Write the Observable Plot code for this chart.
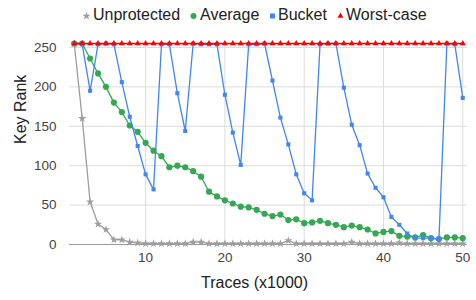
<!DOCTYPE html>
<html>
<head>
<meta charset="utf-8">
<script src="https://cdn.jsdelivr.net/npm/d3@7"></script>
<script src="https://cdn.jsdelivr.net/npm/@observablehq/plot@0.6"></script>
<style>
  html, body { margin: 0; padding: 0; background: #fff; }
  body { width: 476px; height: 300px; overflow: hidden; font-family: "Liberation Sans", Arial, sans-serif; }
  #legend { position: relative; height: 30px; width: 476px; }
  .item { position: absolute; top: 0; height: 30px; line-height: 30px; font-size: 16px; color: #222; white-space: nowrap; }
  .sym { position: absolute; top: 10px; }
</style>
</head>
<body>
<div id="legend"></div>
<div id="chart"></div>
<script>
const traces = [1,2,3,4,5,6,7,8,9,10,11,12,13,14,15,16,17,18,19,20,21,22,23,24,25,26,27,28,29,30,31,32,33,34,35,36,37,38,39,40,41,42,43,44,45,46,47,48,49,50];
const unprotected = [255,160,54,26,19,6,6,3,2,1,1,1,1,1,1,3,3,1,1,1,1,1,1,1,1,1,1,5,1,1,1,1,1,1,1,3,1,1,1,1,1,2,1,1,1,1,1,1,1,1];
const average = [255,255,236,217,200,180,168,151,143,129,119,112,98,100,98,93,86,67,61,56,52,48,47,44,39,36,38,31,32,27,28,30,27,25,22,24,22,19,14,16,17,11,10,9,12,8,7,9,9,8];
const bucket = [255,254,195,254,255,254,206,162,125,89,70,254,254,192,144,255,254,254,254,190,142,101,254,254,255,208,161,127,89,65,56,254,255,255,199,152,126,90,72,60,35,25,14,8,8,8,7,255,254,186];
const worstCase = [255,255,255,255,255,255,255,255,255,255,255,255,255,255,255,255,255,255,255,255,255,255,255,255,255,255,255,255,255,255,255,255,255,255,255,255,255,255,255,255,255,255,255,255,255,255,255,255,255,255];
const seriesNames = ["Unprotected", "Average", "Bucket", "Worst-case"];
const seriesColors = ["#9e9e9e", "#34a853", "#4285f4", "#ff0000"];
const xTicks = [10, 20, 30, 40, 50];
const yTicks = [0, 50, 100, 150, 200, 250];
const xLabel = "Traces (x1000)";
const yLabel = "Key Rank";

const rows = (vals) => traces.map((t, i) => ({x: t, y: vals[i]}));
const uData = rows(unprotected), aData = rows(average), bData = rows(bucket), wData = rows(worstCase);

// Legend
const legend = document.getElementById("legend");
const legendPos = [{s: 83, t: 93}, {s: 190, t: 200}, {s: 269, t: 278}, {s: 337, t: 346}];
const symSvg = [
  (c) => `<svg width="7" height="8" viewBox="-3.5 -4 7 8"><path d="${d3.symbol(d3.symbolStar, 22)()}" fill="${c}"/></svg>`,
  (c) => `<svg width="7" height="8" viewBox="-3.5 -4 7 8"><circle r="3" fill="${c}"/></svg>`,
  (c) => `<svg width="7" height="8" viewBox="-3.5 -4 7 8"><rect x="-2.5" y="-2.5" width="5" height="5" fill="${c}"/></svg>`,
  (c) => `<svg width="7" height="8" viewBox="-3.5 -4 7 8"><path d="${d3.symbol(d3.symbolTriangle, 16)()}" fill="${c}"/></svg>`
];
seriesNames.forEach((n, i) => {
  const s = document.createElement("div");
  s.className = "item sym";
  s.style.left = legendPos[i].s + "px";
  s.style.top = "11px"; s.style.height = "8px"; s.style.lineHeight = "8px";
  s.innerHTML = symSvg[i](seriesColors[i]);
  legend.appendChild(s);
  const t = document.createElement("div");
  t.className = "item";
  t.style.left = legendPos[i].t + "px";
  t.textContent = n;
  legend.appendChild(t);
});

const chart = Plot.plot({
  width: 476,
  height: 270,
  marginLeft: 69,
  marginRight: 9,
  marginTop: 13,
  marginBottom: 56,
  style: {fontFamily: "'Liberation Sans', Arial, sans-serif", fontSize: "13.5px", color: "#444", background: "#fff"},
  x: {domain: [0.4, 50.6], label: null},
  y: {domain: [0, 255], label: null},
  marks: [
    Plot.gridX(xTicks, {stroke: "#dcdcdc", strokeOpacity: 1}),
    Plot.gridY(yTicks.filter(d => d > 0), {stroke: "#dcdcdc", strokeOpacity: 1}),
    Plot.axisX(xTicks, {tickSize: 0, tickPadding: 8, fontSize: 13.5, fill: "#444"}),
    Plot.axisY(yTicks, {tickSize: 0, tickPadding: 13, fontSize: 13.5, fill: "#444"}),
    Plot.ruleY([0], {stroke: "#9a9a9a", strokeWidth: 1}),
    Plot.line(uData, {x: "x", y: "y", stroke: seriesColors[0], strokeWidth: 1.3}),
    Plot.dot(uData, {x: "x", y: "y", symbol: "star", r: 2.6, fill: seriesColors[0], stroke: "none"}),
    Plot.line(aData, {x: "x", y: "y", stroke: seriesColors[1], strokeWidth: 1.3}),
    Plot.dot(aData, {x: "x", y: "y", r: 3.1, fill: seriesColors[1], stroke: "none"}),
    Plot.line(bData, {x: "x", y: "y", stroke: seriesColors[2], strokeWidth: 1.3}),
    Plot.dot(bData, {x: "x", y: "y", symbol: "square", r: 2.3, fill: seriesColors[2], stroke: "none"}),
    Plot.line(wData, {x: "x", y: "y", stroke: seriesColors[3], strokeWidth: 1.5}),
    Plot.dot(wData, {x: "x", y: "y", symbol: "triangle", r: 2.3, fill: seriesColors[3], stroke: "none"}),
    Plot.text([xLabel], {frameAnchor: "bottom", dx: -14, dy: 43, fontSize: 16, fill: "#222", text: d => d}),
    Plot.text([yLabel], {frameAnchor: "left", dx: -49, rotate: -90, fontSize: 16, fill: "#222", text: d => d})
  ]
});
document.getElementById("chart").appendChild(chart);
</script>
</body>
</html>
